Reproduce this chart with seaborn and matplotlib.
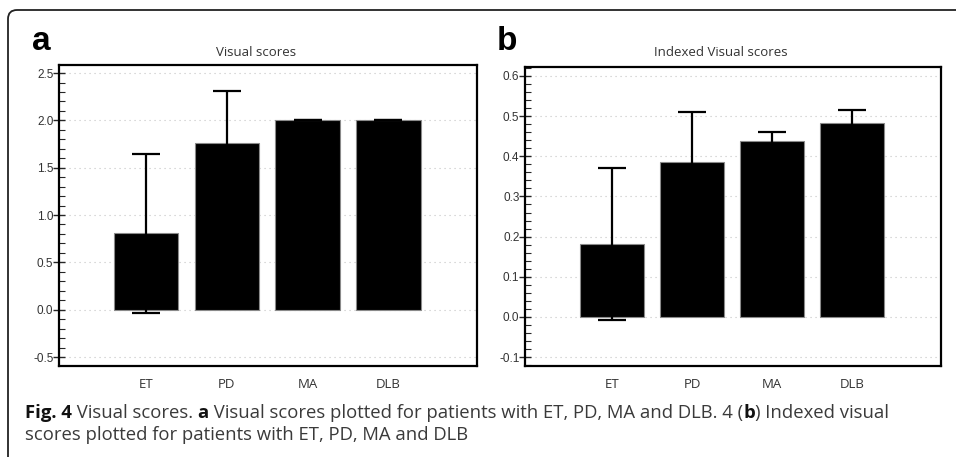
import numpy as np
import matplotlib
matplotlib.use("Agg")
import matplotlib.pyplot as plt
import seaborn as sns
from matplotlib.ticker import MultipleLocator, FormatStrFormatter
from matplotlib.path import Path
from matplotlib.patches import PathPatch

# Data
groups = ["ET", "PD", "MA", "DLB"]
visual_mean = [0.81, 1.76, 2.00, 2.00]
visual_sd = [0.84, 0.55, 0.0, 0.0]
indexed_mean = [0.182, 0.386, 0.438, 0.482]
indexed_sd = [0.190, 0.123, 0.022, 0.032]

sns.set_style("white")
plt.rcParams["font.family"] = ["Open Sans", "DejaVu Sans"]

W, H = 956, 457
fig = plt.figure(figsize=(W / 100, H / 100), dpi=100)


def px_axes(left, top, right, bottom):
    return fig.add_axes([left / W, 1 - bottom / H, (right - left) / W, (bottom - top) / H])


def draw_panel(ax, means, sds, ylim, xlim, major, minor):
    sns.barplot(x=groups, y=means, ax=ax, color="black", edgecolor="#8a8a8a",
                linewidth=0.8, width=0.8, errorbar=None, saturation=1, zorder=2)
    ax.errorbar(np.arange(len(groups)), means, yerr=sds, fmt="none", ecolor="black",
                elinewidth=1.6, capsize=10, capthick=1.6, zorder=3)
    ax.set_ylim(*ylim)
    ax.set_xlim(*xlim)
    ax.yaxis.set_major_locator(MultipleLocator(major))
    ax.yaxis.set_minor_locator(MultipleLocator(minor))
    ax.yaxis.set_major_formatter(FormatStrFormatter("%.1f"))
    ax.set_axisbelow(True)
    ax.grid(axis="y", which="major", color="#c4c4c4", linestyle=(0, (1, 3.5)), linewidth=0.8)
    ax.grid(axis="x", visible=False)
    ax.tick_params(axis="y", which="major", direction="inout", length=8, width=1,
                   left=True, pad=0, labelsize=8.5, labelcolor="#333333")
    ax.tick_params(axis="y", which="minor", direction="in", length=4, width=0.8, left=True)
    ax.tick_params(axis="x", length=0, pad=9, labelsize=9.5, labelcolor="#333333")
    for lab in ax.get_yticklabels():
        lab.set_fontfamily(["Liberation Sans", "DejaVu Sans"])
    ax.set_xlabel("")
    ax.set_ylabel("")
    for s in ax.spines.values():
        s.set_visible(True)
        s.set_color("black")
        s.set_linewidth(1.6)


ax_a = px_axes(59, 65, 477, 366)
draw_panel(ax_a, visual_mean, visual_sd, (-0.595, 2.585), (-1.08, 4.10), 0.5, 0.1)
ax_b = px_axes(525, 66.7, 941, 366)
draw_panel(ax_b, indexed_mean, indexed_sd, (-0.122, 0.623), (-1.09, 4.11), 0.1, 0.02)

# titles and panel letters
fig.text(256 / W, 1 - 52 / H, "Visual scores", ha="center", va="center", fontsize=9.5, color="#333333")
fig.text(721 / W, 1 - 53 / H, "Indexed Visual scores", ha="center", va="center", fontsize=9.5, color="#333333")
fig.text(32 / W, 1 - 50 / H, "a", ha="left", va="baseline", fontsize=24, fontweight="bold",
         family=["Liberation Sans", "DejaVu Sans"], color="black")
fig.text(497 / W, 1 - 50 / H, "b", ha="left", va="baseline", fontsize=24, fontweight="bold",
         family=["Liberation Sans", "DejaVu Sans"], color="black")

# open frame with rounded top-left corner
r = 9
verts = [(W, 10), (8 + r, 10), (8, 10), (8, 10 + r), (8, H)]
codes = [Path.MOVETO, Path.LINETO, Path.CURVE3, Path.CURVE3, Path.LINETO]
verts = [(x / W, 1 - y / H) for x, y in verts]
fig.patches.append(PathPatch(Path(verts, codes), transform=fig.transFigure,
                             fill=False, edgecolor="#222222", linewidth=1.3))

# caption with bold pieces
renderer = fig.canvas.get_renderer()


def caption_line(parts, x, y, size=13.3):
    for txt, weight in parts:
        t = fig.text(x / W, 1 - y / H, txt, ha="left", va="baseline", fontsize=size,
                     fontweight=weight, color="#3a3a3a" if weight == "normal" else "#111111")
        x += t.get_window_extent(renderer).width


line1 = [("Fig. 4", "bold"), (" Visual scores. ", "normal"), ("a", "bold"),
         (" Visual scores plotted for patients with ET, PD, MA and DLB. 4 (", "normal"),
         ("b", "bold"), (") Indexed visual", "normal")]
line2 = [("scores plotted for patients with ET, PD, MA and DLB", "normal")]
caption_line(line1, 25, 418)
caption_line(line2, 25, 440)

fig.savefig("out.png", dpi=100)
